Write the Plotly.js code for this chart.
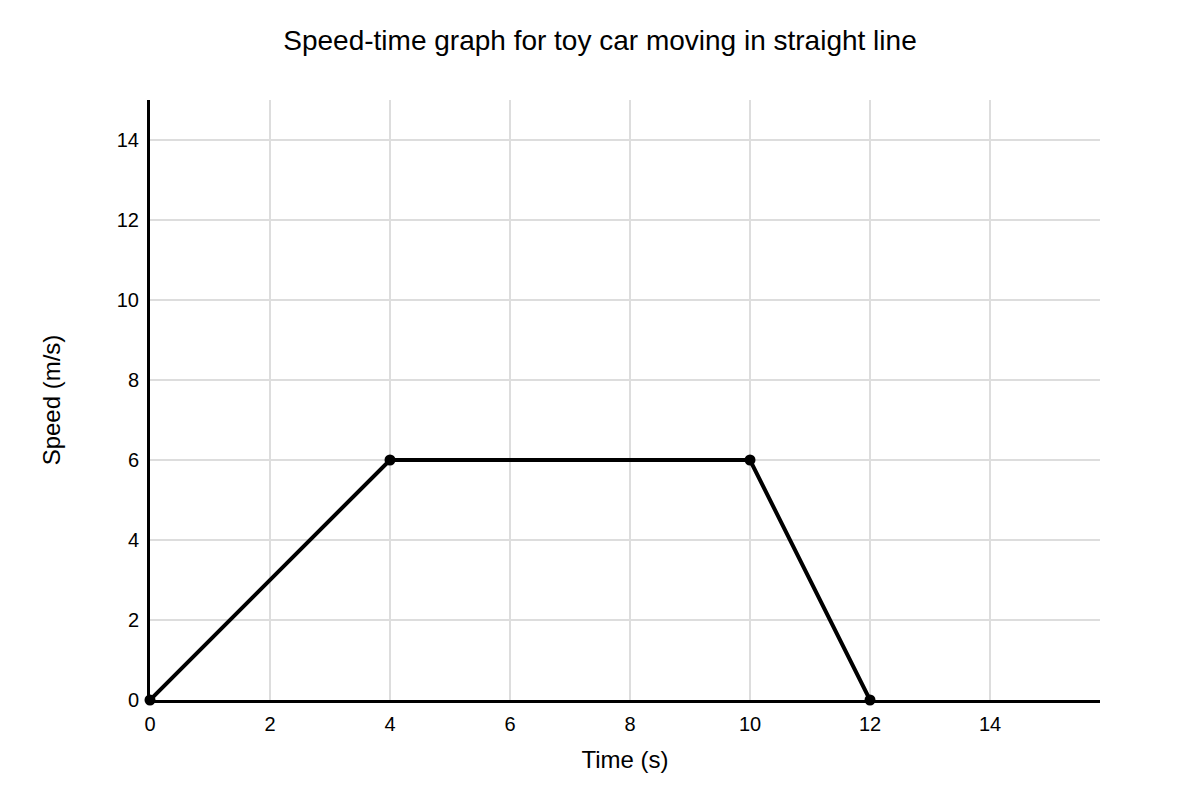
<!DOCTYPE html>
<html>
<head>
<meta charset="utf-8">
<script src="https://cdn.plot.ly/plotly-3.0.1.min.js"></script>
<style>
  html, body { margin: 0; padding: 0; background: #fff; }
  #chart { width: 1200px; height: 800px; }
</style>
</head>
<body>
<div id="chart"></div>
<script>
// speed-time points for the toy car
var timeS = [0, 4, 10, 12];
var speedMs = [0, 6, 6, 0];
var xTicks = [0, 2, 4, 6, 8, 10, 12, 14];
var yTicks = [0, 2, 4, 6, 8, 10, 12, 14];

var trace = {
  x: timeS,
  y: speedMs,
  mode: "lines+markers",
  type: "scatter",
  line: { color: "#000", width: 4 },
  marker: { color: "#000", size: 11 },
  cliponaxis: false,
  hoverinfo: "skip"
};

var layout = {
  width: 1200,
  height: 800,
  margin: { l: 150, r: 100, t: 100, b: 100 },
  paper_bgcolor: "#fff",
  plot_bgcolor: "#fff",
  font: { family: "Liberation Sans, Arial, sans-serif", color: "#000", size: 20 },
  showlegend: false,
  title: {
    text: "Speed-time graph for toy car moving in straight line",
    font: { size: 28, color: "#000" },
    x: 0.5,
    xanchor: "center",
    y: 0.95,
    yanchor: "middle"
  },
  xaxis: {
    range: [0, 950 / 60],
    tickvals: xTicks,
    ticktext: xTicks.map(String),
    tickfont: { size: 20 },
    showgrid: true,
    gridcolor: "#dddddd",
    gridwidth: 1.5,
    zeroline: false,
    showline: true,
    linecolor: "#000",
    linewidth: 3,
    ticks: "outside",
    ticklen: 4,
    tickcolor: "rgba(0,0,0,0)",
    title: { text: "Time (s)", font: { size: 24 }, standoff: 18 }
  },
  yaxis: {
    range: [0, 15],
    tickvals: yTicks,
    ticktext: yTicks.map(String),
    tickfont: { size: 20 },
    showgrid: true,
    gridcolor: "#dddddd",
    gridwidth: 1.5,
    zeroline: false,
    showline: true,
    linecolor: "#000",
    linewidth: 3,
    ticks: "outside",
    ticklen: 4,
    tickcolor: "rgba(0,0,0,0)",
    title: { text: "Speed (m/s)", font: { size: 24 }, standoff: 50 }
  }
};

Plotly.newPlot("chart", [trace], layout, { displayModeBar: false, staticPlot: true });
</script>
</body>
</html>
